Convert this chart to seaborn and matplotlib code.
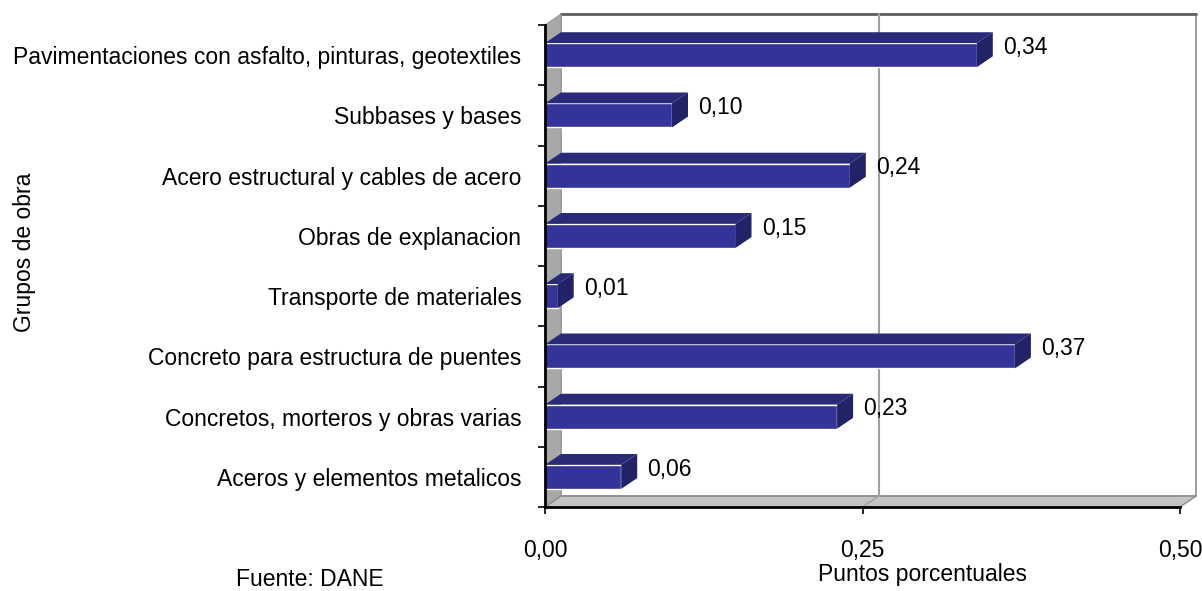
import numpy as np
import pandas as pd
import seaborn as sns
import matplotlib.pyplot as plt
from matplotlib.patches import Polygon, Rectangle
from matplotlib.ticker import FixedLocator

##################################################################
# Data
##################################################################
categories = ["Pavimentaciones con asfalto, pinturas, geotextiles",
              "Subbases y bases",
              "Acero estructural y cables de acero",
              "Obras de explanacion",
              "Transporte de materiales",
              "Concreto para estructura de puentes",
              "Concretos, morteros y obras varias",
              "Aceros y elementos metalicos"]
values = [0.34, 0.10, 0.24, 0.15, 0.01, 0.37, 0.23, 0.06]
xTicks = [0.0, 0.25, 0.5]
xTickLabels = ["0,00", "0,25", "0,50"]

dataset = pd.DataFrame({'Grupo': categories, 'Valor': values})

##################################################################
# Style
##################################################################
sns.set_style('white')
plt.rcParams['font.family'] = ['Liberation Sans', 'DejaVu Sans']
plt.rcParams['text.color'] = 'black'
plt.rcParams['axes.labelcolor'] = 'black'
plt.rcParams['xtick.color'] = 'black'
plt.rcParams['ytick.color'] = 'black'

fontSize = 16.5
frontColor = '#333399'
topColor = '#2A2A78'
sideColor = '#222266'
wallGray = '#A8A8A8'
floorGray = '#C4C4C4'

# 3D depth offsets (data units)
depthX = 0.0126
depthY = 0.18

fig = plt.figure(figsize=(12.02, 5.91), dpi=100)
ax = fig.add_axes([545 / 1202, 1 - 507 / 591, 635 / 1202, (507 - 25) / 591])

sns.barplot(dataset, x='Valor', y='Grupo', orient='h', color=frontColor,
            saturation=1, width=0.4, ax=ax, zorder=3)

ax.set_xlim(0, 0.5)
ax.set_ylim(len(categories) - 0.5, -0.5)
yTop = -0.5
yBottom = len(categories) - 0.5

##################################################################
# Back wall, left wall and floor
##################################################################
ax.add_patch(Rectangle((depthX, yTop - depthY), 0.5, yBottom - yTop,
                       facecolor='white', edgecolor='#8C8C8C', lw=1.2,
                       clip_on=False, zorder=0))
ax.plot([depthX, 0.5 + depthX], [yTop - depthY, yTop - depthY],
        color='#606060', lw=2, clip_on=False, zorder=1)
ax.add_patch(Polygon([(0, yTop), (depthX, yTop - depthY),
                      (depthX, yBottom - depthY), (0, yBottom)],
                     closed=True, facecolor=wallGray, edgecolor='#9A9A9A',
                     lw=0.8, clip_on=False, zorder=1))
ax.add_patch(Polygon([(0, yBottom), (depthX, yBottom - depthY),
                      (0.5 + depthX, yBottom - depthY), (0.5, yBottom)],
                     closed=True, facecolor=floorGray, edgecolor='#8C8C8C',
                     lw=1.0, clip_on=False, zorder=1))

# gridline on back wall
ax.plot([0.25 + depthX, 0.25 + depthX], [yTop - depthY, yBottom - depthY],
        color='#A0A0A0', lw=1.5, clip_on=False, zorder=1)
ax.plot([0.25, 0.25 + depthX], [yBottom, yBottom - depthY],
        color='#A0A0A0', lw=1.0, clip_on=False, zorder=1)

##################################################################
# 3D faces of the bars + value labels
##################################################################
for bar, value in zip(ax.patches[:len(values)], values):
    x0 = bar.get_x()
    y0 = bar.get_y()
    w = bar.get_width()
    h = bar.get_height()
    top = Polygon([(x0, y0), (x0 + w, y0), (x0 + w + depthX, y0 - depthY),
                   (x0 + depthX, y0 - depthY)], closed=True,
                  facecolor=topColor, edgecolor='none', clip_on=False, zorder=3)
    side = Polygon([(x0 + w, y0), (x0 + w, y0 + h),
                    (x0 + w + depthX, y0 + h - depthY),
                    (x0 + w + depthX, y0 - depthY)], closed=True,
                   facecolor=sideColor, edgecolor='none', clip_on=False, zorder=3)
    ax.add_patch(top)
    ax.add_patch(side)
    ax.text(x0 + w + depthX + 0.008, y0 + h / 2 - 0.13,
            f"{value:.2f}".replace('.', ','), ha='left', va='center',
            fontsize=fontSize, color='black', zorder=4)

##################################################################
# Axes, ticks, labels
##################################################################
for s in ['top', 'right']:
    ax.spines[s].set_visible(False)
for s in ['left', 'bottom']:
    ax.spines[s].set_color('black')
    ax.spines[s].set_linewidth(2)
    ax.spines[s].set_zorder(5)

ax.set_xticks(xTicks)
ax.set_xticklabels(xTickLabels, fontsize=fontSize)
ax.tick_params(axis='x', direction='out', length=5, width=1.2, pad=18,
               bottom=True)
ax.set_yticks(range(len(categories)))
ax.set_yticklabels(categories, fontsize=fontSize)
ax.tick_params(axis='y', which='major', length=0, pad=17)
ax.yaxis.set_minor_locator(FixedLocator(np.arange(-0.5, len(categories), 1.0)))
ax.tick_params(axis='y', which='minor', direction='out', length=5,
               width=1.2, left=True)

ax.set_ylabel('')
ax.set_xlabel('Puntos porcentuales', fontsize=fontSize)
ax.xaxis.set_label_coords((922 - 545) / 635, -(574 - 507) / 482)
ax.xaxis.label.set_va('center')

fig.text(25 / 1202, 1 - 252 / 591, 'Grupos de obra', rotation=90,
         ha='center', va='center', fontsize=fontSize)
fig.text(310 / 1202, 1 - 579 / 591, 'Fuente: DANE', ha='center',
         va='center', fontsize=fontSize)

fig.savefig('out.png', dpi=100)
